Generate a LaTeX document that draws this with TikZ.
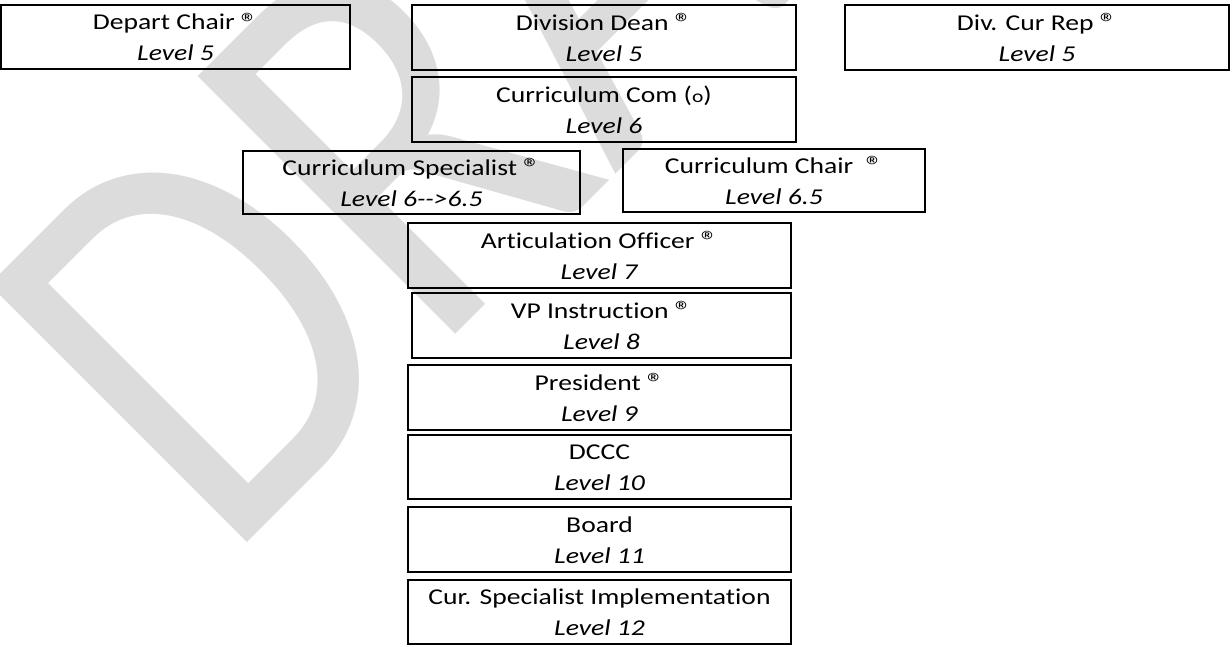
\documentclass[tikz,border=0pt]{standalone}
\usepackage{fontspec}
\setmainfont{Carlito}[Ligatures={TeX,NoCommon}]
\usepackage{graphicx}
\usepackage{tikz}
\usetikzlibrary{positioning}
\definecolor{wmgray}{HTML}{DCDCDC}
\newcommand{\lvltext}[2]{\raisebox{-2pt}[\height][\depth]{\scalebox{1}[0.82]{\begin{tabular}{@{}c@{}}#1\\\textit{#2}\end{tabular}}}}
\newcommand{\regmark}{\smash{\fontsize{34pt}{34pt}\selectfont\raisebox{-3pt}{®}}}

\begin{document}
\begin{tikzpicture}[
        x=1pt, y=-1pt,
        levelbox/.style={
            draw,
            line width=2.2pt,
            inner sep=0pt,
            align=center,
            minimum height=65pt,
            font=\fontsize{27.6pt}{37.8pt}\selectfont
        },
        watermark/.style={
            text=wmgray,
            inner sep=0pt,
            anchor=base west,
            transform shape,
            font=\fontsize{568pt}{568pt}\selectfont
        }
    ]
    \useasboundingbox (0,0) rectangle (1232,646);
    \begin{scope}
        \clip (0,0) rectangle (1232,646);
        \begin{scope}[shift={(224,566)}, rotate=45, xscale=0.84]
            \node[watermark] (draft) at (0,0) {DRAFT};
        \end{scope}
    \end{scope}

    \node[levelbox, minimum width=349pt, minimum height=64pt] (deptchair) at (175.5,37) {\lvltext{Depart Chair \regmark}{Level 5}};
    \node[levelbox, minimum width=384pt] (divdean) at (604,37.5) {\lvltext{Division Dean \regmark}{Level 5}};
    \node[levelbox, minimum width=384pt] (divrep) at (1037,37.5) {\lvltext{Div. Cur Rep \regmark}{Level 5}};
    \node[levelbox, minimum width=384pt] (curcom) at (604,109.5) {\lvltext{Curriculum Com ({\fontsize{21.5pt}{21.5pt}\selectfont o})}{Level 6}};
    \node[levelbox, minimum width=337pt, minimum height=63pt] (curspec) at (411.5,182.5) {\lvltext{Curriculum Specialist \regmark}{Level 6-{}->6.5}};
    \node[levelbox, minimum width=302pt, minimum height=63pt] (curchair) at (774,180.5) {\lvltext{Curriculum Chair\ \ \regmark}{Level 6.5}};
    \node[levelbox, minimum width=383pt] (artoff) at (599.5,255.5) {\lvltext{Articulation Officer \regmark}{Level 7}};
    \node[levelbox, minimum width=379pt] (vpinst) at (601.5,325.5) {\lvltext{VP Instruction \regmark}{Level 8}};
    \node[levelbox, minimum width=383pt] (pres) at (599.5,397.5) {\lvltext{President \regmark}{Level 9}};
    \node[levelbox, minimum width=383pt, minimum height=64pt] (dccc) at (599.5,467) {\lvltext{DCCC}{Level 10}};
    \node[levelbox, minimum width=383pt] (board) at (599.5,539.5) {\lvltext{Board}{Level 11}};
    \node[levelbox, minimum width=383pt, minimum height=64pt] (curimpl) at (599.5,612) {\lvltext{Cur. Specialist Implementation}{Level 12}};
\end{tikzpicture}
\end{document}
